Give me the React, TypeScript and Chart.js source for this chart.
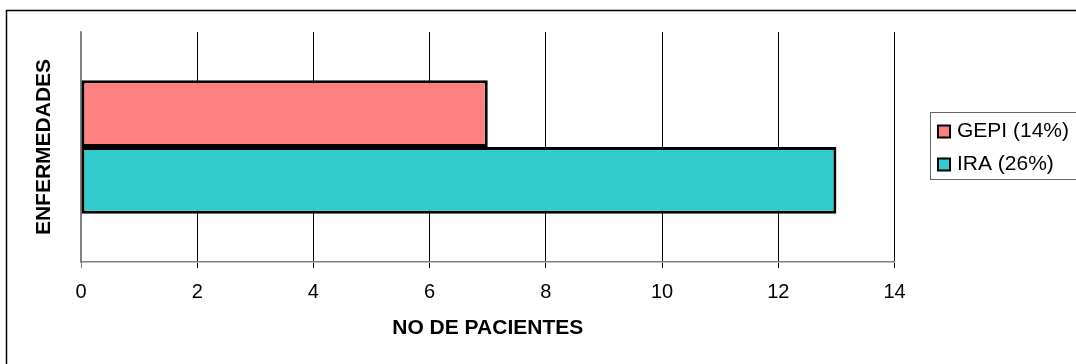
import React, { useEffect, useRef } from "react";
import { Chart, registerables } from "chart.js";

Chart.register(...registerables);

// Data
const categories = ["Enfermedades"];
const seriesLabels = ["GEPI (14%)", "IRA (26%)"];
const gepiValues = [7];
const iraValues = [13];
const seriesColors = ["#FF8080", "#33CCCC"];
const xMin = 0;
const xMax = 14;
const xStep = 2;

const FONT = "'Liberation Sans', Arial, Helvetica, sans-serif";

// Outer frame of the chart object (left and top edges)
const framePlugin = {
  id: "frame",
  beforeDraw(chart: any) {
    const ctx = chart.ctx;
    ctx.save();
    ctx.strokeStyle = "#000";
    ctx.lineWidth = 1.5;
    ctx.beginPath();
    ctx.moveTo(6.5, chart.height + 5);
    ctx.lineTo(6.5, 10.5);
    ctx.lineTo(chart.width + 5, 10.5);
    ctx.stroke();
    ctx.restore();
  },
};

// Boxed legend at the right, built from the datasets
const boxLegendPlugin = {
  id: "boxLegend",
  afterDraw(chart: any) {
    const ctx = chart.ctx;
    const ds = chart.data.datasets;
    const boxLeft = 930.5;
    const boxTop = 112.5;
    const rowH = 33;
    const boxH = 67;
    ctx.save();
    ctx.strokeStyle = "#666";
    ctx.lineWidth = 1;
    ctx.strokeRect(boxLeft, boxTop, chart.width - boxLeft + 10, boxH);
    ctx.font = `21px ${FONT}`;
    ctx.textBaseline = "middle";
    ctx.textAlign = "left";
    ds.forEach((d: any, i: number) => {
      const cy = 131.5 + i * rowH;
      ctx.fillStyle = d.backgroundColor;
      ctx.fillRect(938, cy - 6, 12, 12);
      ctx.strokeStyle = "#000";
      ctx.lineWidth = 2;
      ctx.strokeRect(938, cy - 6, 12, 12);
      ctx.fillStyle = "#000";
      ctx.fillText(d.label, 957, cy);
    });
    ctx.restore();
  },
};

export default function App() {
  const canvasRef = useRef<HTMLCanvasElement | null>(null);

  useEffect(() => {
    if (!canvasRef.current) return;
    const chart = new Chart(canvasRef.current, {
      type: "bar",
      data: {
        labels: categories,
        datasets: [
          {
            label: seriesLabels[0],
            data: gepiValues,
            backgroundColor: seriesColors[0],
            borderColor: "#000",
            borderWidth: 3,
            borderSkipped: false,
          },
          {
            label: seriesLabels[1],
            data: iraValues,
            backgroundColor: seriesColors[1],
            borderColor: "#000",
            borderWidth: 3,
            borderSkipped: false,
          },
        ],
      },
      options: {
        indexAxis: "y",
        animation: false,
        responsive: true,
        maintainAspectRatio: false,
        datasets: {
          bar: { barPercentage: 1, categoryPercentage: 0.58 },
        },
        layout: { padding: { top: 32, right: 181.5, left: 0, bottom: 0 } },
        plugins: {
          legend: { display: false },
          tooltip: { enabled: false },
        },
        scales: {
          x: {
            type: "linear",
            min: xMin,
            max: xMax,
            ticks: {
              stepSize: xStep,
              color: "#000",
              padding: 12,
              font: { family: FONT, size: 20 },
            },
            grid: {
              color: (c: any) => (c.index === 0 ? "#808080" : "#000"),
              lineWidth: 1,
              drawTicks: true,
              tickLength: 6,
            },
            border: { display: true, color: "#808080", width: 1.5 },
            title: {
              display: true,
              text: "NO DE PACIENTES",
              color: "#000",
              font: { family: FONT, size: 21, weight: "bold" },
              padding: { top: 0, bottom: 23 },
            },
            afterFit: (scale: any) => {
              scale.height = 102;
            },
          },
          y: {
            type: "category",
            ticks: { display: false },
            grid: { display: false, drawTicks: false },
            border: { display: true, color: "#808080", width: 1.5 },
            title: {
              display: true,
              text: "ENFERMEDADES",
              color: "#000",
              font: { family: FONT, size: 21, weight: "bold" },
              padding: { top: 32, bottom: 0 },
            },
            afterFit: (scale: any) => {
              scale.width = 81;
            },
          },
        },
      },
      plugins: [framePlugin, boxLegendPlugin],
    });
    return () => chart.destroy();
  }, []);

  return (
    <div
      style={{
        position: "fixed",
        left: 0,
        top: 0,
        width: "1076px",
        height: "364px",
        background: "#fff",
      }}
    >
      <canvas ref={canvasRef} />
    </div>
  );
}
